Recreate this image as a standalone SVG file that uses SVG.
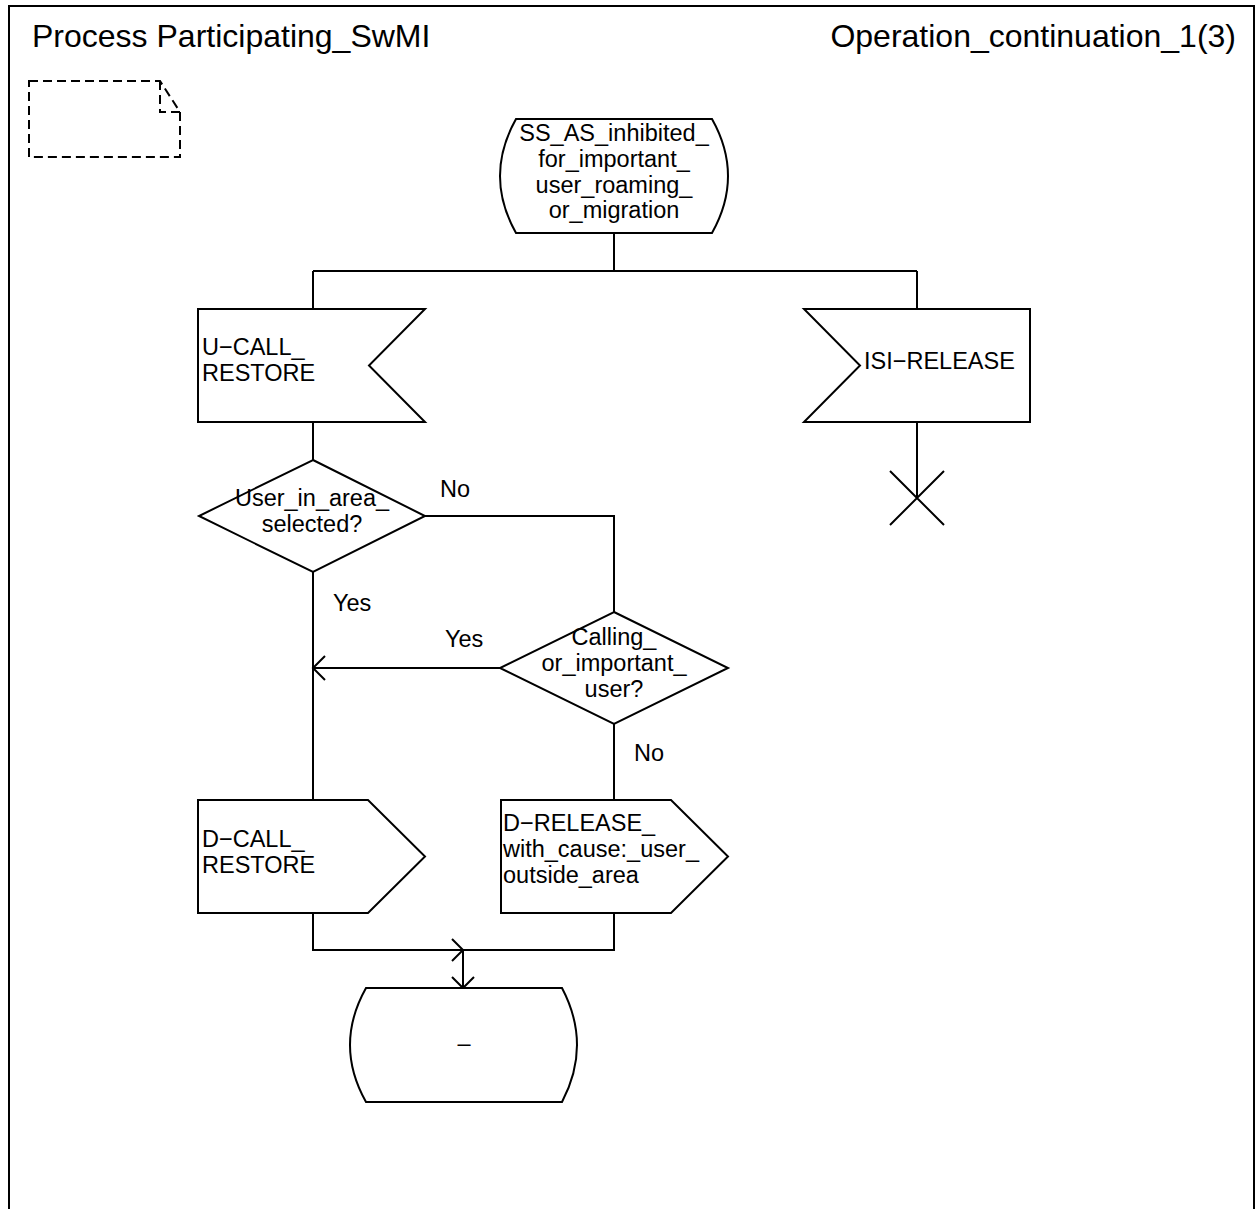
<svg xmlns="http://www.w3.org/2000/svg" width="1257" height="1209" viewBox="0 0 1257 1209">
<style>
.ln{fill:none;stroke:#000;stroke-width:2}
.sh{fill:#fff;stroke:#000;stroke-width:2}
.t{font-family:"Liberation Sans",Arial,sans-serif;font-size:23.5px;fill:#000}
.c{text-anchor:middle}
.title{font-family:"Liberation Sans",Arial,sans-serif;font-size:32px;fill:#000}
</style>
<rect width="1257" height="1209" fill="#fff"/>
<g id="frame">
<rect x="9" y="6" width="1245" height="1220" class="ln"/>
<text x="32" y="47" class="title">Process Participating_SwMI</text>
<text x="1236" y="47" class="title" text-anchor="end">Operation_continuation_1(3)</text>
</g>
<g id="note">
<path d="M29,81 H160 L180,112 V157 H29 Z M160,81 V112 H180" class="ln" stroke-dasharray="9,5"/>
</g>
<g id="connectors">
<path d="M614,233 V271 M313,271 H917 M313,271 V309 M917,271 V309" class="ln"/>
<path d="M313,422 V460" class="ln"/>
<path d="M917,422 V498" class="ln"/>
<path d="M425,516 H614 V612" class="ln"/>
<path d="M313,572 V800" class="ln"/>
<path d="M500,668 H313" class="ln"/>
<path d="M325,656 L313,668 L325,680" class="ln"/>
<path d="M614,724 V800" class="ln"/>
<path d="M313,913 V950 H614 V913" class="ln"/>
<path d="M452,939 L463,950 L452,961" class="ln"/>
<path d="M463,950 V988" class="ln"/>
<path d="M452,977 L463,988 L474,977" class="ln"/>
<text x="440" y="497" class="t">No</text>
<text x="333" y="611" class="t">Yes</text>
<text x="445" y="647" class="t">Yes</text>
<text x="634" y="761" class="t">No</text>
</g>
<g id="state_top">
<path d="M516,119 H712 Q744,176 712,233 H516 Q484,176 516,119 Z" class="sh"/>
<text class="t c" x="614" y="141">SS_AS_inhibited_</text>
<text class="t c" x="614" y="167">for_important_</text>
<text class="t c" x="614" y="193">user_roaming_</text>
<text class="t c" x="614" y="218">or_migration</text>
</g>
<g id="input_ucall">
<path d="M198,309 H425 L369,365.5 L425,422 H198 Z" class="sh"/>
<text class="t" x="202" y="355">U−CALL_</text>
<text class="t" x="202" y="381">RESTORE</text>
</g>
<g id="input_isi">
<path d="M804,309 H1030 V422 H804 L860,365.5 Z" class="sh"/>
<text class="t" x="864" y="369">ISI−RELEASE</text>
</g>
<g id="stop">
<path d="M890,471 L944,525 M944,471 L890,525" class="ln"/>
</g>
<g id="decision_user_in_area">
<path d="M313,460 L425,516 L313,572 L199,516 Z" class="sh"/>
<text class="t c" x="312" y="506">User_in_area_</text>
<text class="t c" x="312" y="532">selected?</text>
</g>
<g id="decision_calling">
<path d="M614,612 L728,668 L614,724 L500,668 Z" class="sh"/>
<text class="t c" x="614" y="645">Calling_</text>
<text class="t c" x="614" y="671">or_important_</text>
<text class="t c" x="614" y="697">user?</text>
</g>
<g id="output_dcall">
<path d="M198,800 H368 L425,856.5 L368,913 H198 Z" class="sh"/>
<text class="t" x="202" y="847">D−CALL_</text>
<text class="t" x="202" y="873">RESTORE</text>
</g>
<g id="output_drelease">
<path d="M501,800 H671 L728,856.5 L671,913 H501 Z" class="sh"/>
<text class="t" x="503" y="831">D−RELEASE_</text>
<text class="t" x="503" y="857">with_cause:_user_</text>
<text class="t" x="503" y="883">outside_area</text>
</g>
<g id="state_bottom">
<path d="M366,988 H562 Q592,1045 562,1102 H366 Q334,1045 366,988 Z" class="sh"/>
<text class="t c" x="464" y="1051">–</text>
</g>
</svg>
